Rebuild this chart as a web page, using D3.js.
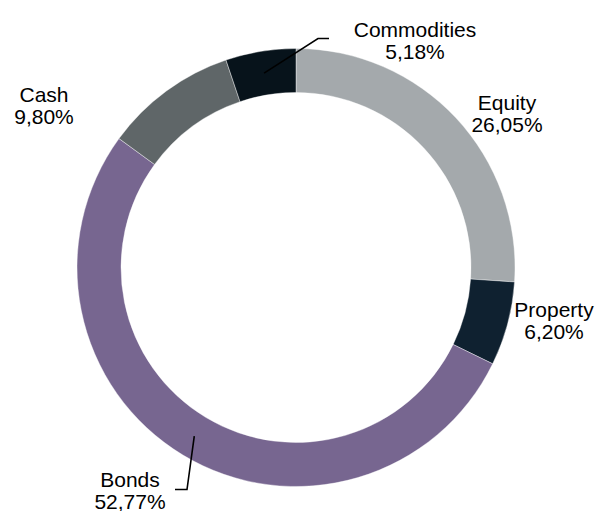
<!DOCTYPE html>
<html>
<head>
<meta charset="utf-8">
<script src="https://cdn.jsdelivr.net/npm/d3@7"></script>
<style>
  body { margin: 0; background: #fff; }
  text { font-family: "Liberation Sans", Arial, sans-serif; font-size: 21px; fill: #000; }
</style>
</head>
<body>
<div id="chart"></div>
<script>
// asset allocation donut, clockwise from 12 o'clock
var categories = ["Equity", "Property", "Bonds", "Cash", "Commodities"];
var values = [26.05, 6.20, 52.77, 9.80, 5.18];
var colors = ["#a4a9ac", "#0f2130", "#776690", "#5f6668", "#07131b"];

// label placement (offset of first baseline from the centre), kept apart from the data
var labelOffset = [[211, -158], [258, 49], [-166, 219], [-252, -166], [119, -231]];
// leader lines: elbow and end relative to centre (only for the two that have one)
var leaders = {
	"Commodities": [[22, -229], [33, -229]],
	"Bonds": [[-109, 222], [-121, 222]]
};

var width = 596, height = 511;
var cx = 296, cy = 267.5;
var outerR = 219, innerR = 175;

var svg = d3.select("#chart")
	.append("svg")
	.attr("width", width)
	.attr("height", height);

var g = svg.append("g").attr("transform", "translate(" + cx + "," + cy + ")");

var pie = d3.pie().sort(null).value(function(d) { return d; });
var arc = d3.arc().innerRadius(innerR).outerRadius(outerR);
var arcs = pie(values);

g.selectAll(".slice")
	.data(arcs)
	.enter().append("path")
	.attr("class", "slice")
	.attr("d", arc)
	.style("fill", function(d, i) { return colors[i]; })
	.style("stroke", "#fff")
	.style("stroke-width", 0.4);

// leader lines start at the slice centroid
arcs.forEach(function(d, i) {
	var l = leaders[categories[i]];
	if (!l) return;
	var pts = [arc.centroid(d)].concat(l);
	g.append("path")
		.attr("d", d3.line()(pts))
		.style("fill", "none")
		.style("stroke", "#000")
		.style("stroke-width", 1.6);
});

var fmt = function(v) { return d3.format(".2f")(v).replace(".", ",") + "%"; };

var labels = g.selectAll(".lbl")
	.data(arcs)
	.enter().append("text")
	.attr("class", "lbl")
	.attr("text-anchor", "middle")
	.attr("transform", function(d, i) { return "translate(" + labelOffset[i][0] + "," + labelOffset[i][1] + ")"; });

labels.append("tspan").attr("x", 0).attr("y", 0).text(function(d, i) { return categories[i]; });
labels.append("tspan").attr("x", 0).attr("y", 22.5).text(function(d) { return fmt(d.data); });
</script>
</body>
</html>
